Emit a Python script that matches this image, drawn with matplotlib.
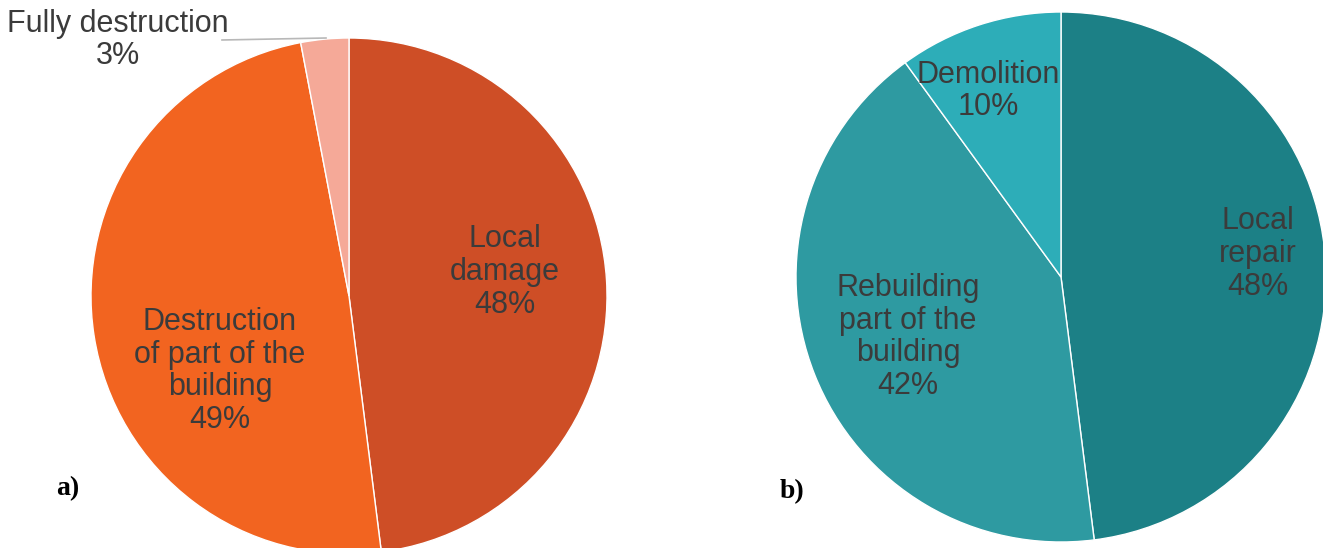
import matplotlib
matplotlib.use("Agg")
import matplotlib.pyplot as plt

# Damage categories (panel a)
damage_labels = ["Local\ndamage", "Destruction\nof part of the\nbuilding", "Fully destruction"]
damage_values = [48, 49, 3]
damage_colors = ["#CE4E26", "#F26420", "#F5A998"]

# Remediation categories (panel b)
repair_labels = ["Local\nrepair", "Rebuilding\npart of the\nbuilding", "Demolition"]
repair_values = [48, 42, 10]
repair_colors = ["#1C8086", "#2E9AA1", "#2DADB8"]

W, H = 1323, 548
fig = plt.figure(figsize=(W / 100, H / 100), dpi=100)
ax = fig.add_axes([0, 0, 1, 1])
ax.set_xlim(0, W)
ax.set_ylim(0, H)
ax.set_aspect("equal")
ax.axis("off")

TXT = "#3B3B3B"
FONT = "Liberation Sans"


def draw_pie(values, colors, center, radius):
    ax.pie(values, colors=colors, startangle=90, counterclock=False,
           center=center, radius=radius,
           wedgeprops=dict(edgecolor="white", linewidth=1.0))


# Panel a
draw_pie(damage_values, damage_colors, (349, H - 296), 258)
# Panel b
draw_pie(repair_values, repair_colors, (1061, H - 277), 265)

ax.set_xlim(0, W)
ax.set_ylim(0, H)


def label(x, y, name, value):
    ax.text(x, H - y, f"{name}\n{value}%", ha="center", va="center",
            fontsize=22, family=FONT, color=TXT, linespacing=1.13)


label(505, 272, damage_labels[0], damage_values[0])
label(220, 371, damage_labels[1], damage_values[1])
label(118, 40, damage_labels[2], damage_values[2])
# leader line for the thin slice
ax.plot([222, 326], [H - 40, H - 38], color="#B8B8B8", lw=1.2)

label(1258, 254, repair_labels[0], repair_values[0])
label(908, 337, repair_labels[1], repair_values[1])
label(988, 91, repair_labels[2], repair_values[2])

ax.text(68, H - 489, "a)", ha="center", va="center", fontsize=20,
        family="Liberation Serif", weight="bold", color="black")
ax.text(792, H - 492, "b)", ha="center", va="center", fontsize=20,
        family="Liberation Serif", weight="bold", color="black")

fig.savefig("out.png", dpi=100, facecolor="white")
